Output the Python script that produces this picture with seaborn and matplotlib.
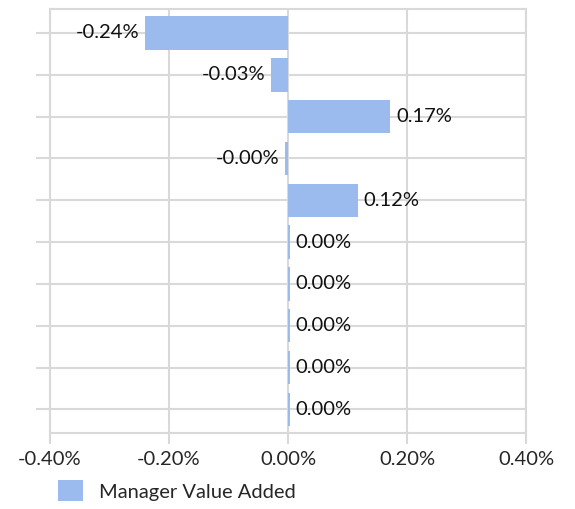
import numpy as np
import pandas as pd
import matplotlib
matplotlib.use("Agg")
import matplotlib.pyplot as plt
import seaborn as sns
from matplotlib.patches import Patch
from matplotlib.ticker import FuncFormatter

# data (values as fractions)
managers = ["M1", "M2", "M3", "M4", "M5", "M6", "M7", "M8", "M9", "M10"]
value_added = [-0.0024, -0.00029, 0.00172, -0.000045, 0.00117,
               0.00003, 0.00003, 0.00003, 0.00003, 0.00003]
x_ticks = [-0.004, -0.002, 0.0, 0.002, 0.004]
series_name = "Manager Value Added"

BAR = "#9BBBEF"
GRID = "#D9D9D9"

sns.set_style("white")
plt.rcParams['font.family'] = ['Lato', 'DejaVu Sans']

df = pd.DataFrame({"manager": managers, "value": value_added})

fig = plt.figure(figsize=(5.75, 5.09), dpi=100)
ax = fig.add_axes([0.087, 0.149, 0.828, 0.833])

sns.barplot(data=df, x="value", y="manager", orient="h", color=BAR,
            saturation=1, width=0.8, linewidth=0, ax=ax, zorder=3)

# value labels
for i, v in enumerate(df["value"]):
    off, ha = (-4, "right") if v < 0 else (4, "left")
    ax.annotate(f"{v * 100:.2f}%", xy=(v, i), xytext=(off, 0),
                textcoords="offset points", ha=ha, va="center",
                fontsize=14.5, color="#111111", zorder=4)

ax.set_xlim(-0.004, 0.004)
ax.set_ylim(len(managers) - 0.43, -0.57)
ax.set_xticks(x_ticks)
ax.xaxis.set_major_formatter(FuncFormatter(lambda x, _: f"{x * 100:.2f}%"))
ax.set_yticks(range(len(managers)))
ax.set_yticklabels([])
ax.set_xlabel("")
ax.set_ylabel("")

ax.grid(True, axis="both", color=GRID, linewidth=1.5, zorder=0)
ax.set_axisbelow(True)
for s in ax.spines.values():
    s.set_color(GRID)
    s.set_linewidth(1.5)

ax.tick_params(axis="x", length=8, width=1.5, color=GRID, labelsize=14.5,
               pad=5, direction="out", bottom=True)
ax.tick_params(axis="y", length=10, width=1.5, color=GRID, direction="out",
               left=True)

fig.legend(handles=[Patch(facecolor=BAR, edgecolor="none", label=series_name)],
           loc="lower left", bbox_to_anchor=(0.07, -0.02), frameon=False,
           fontsize=14.5, handlelength=1.2, handleheight=1.2, handletextpad=0.8)

fig.savefig("out.png", dpi=100)
